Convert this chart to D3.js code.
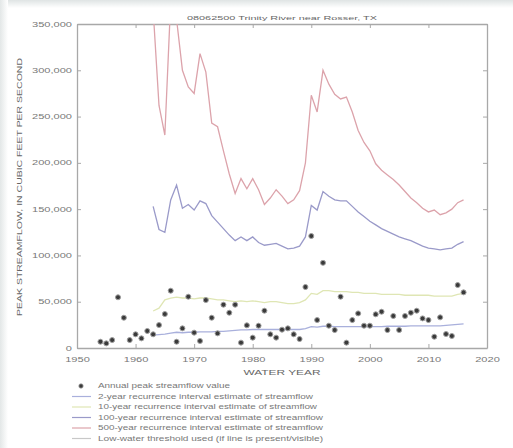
<!DOCTYPE html>
<html><head><meta charset="utf-8">
<script src="https://cdn.jsdelivr.net/npm/d3@7"></script>
<style>body{margin:0;background:#fff}svg{display:block;font-family:"Liberation Sans",Arial,sans-serif}</style>
</head><body><div id="c"></div>
<script>
const title = "08062500 Trinity River near Rosser, TX";
const yLabel = "PEAK STREAMFLOW, IN CUBIC FEET PER SECOND";
const xLabel = "WATER YEAR";
const xTicks = [1950,1960,1970,1980,1990,2000,2010,2020];
const yTicks = [0,50000,100000,150000,200000,250000,300000,350000];
const peakYears = d3.range(1954, 2017);
const peakValues = [6800,5000,8600,54800,32700,8600,14800,10400,18400,14800,24800,36700,61900,6800,21200,55400,16600,7600,51800,32700,15800,46800,38100,46800,5800,24500,11200,24100,40300,14800,11200,19800,21200,14800,9700,65900,121000,30200,92000,24100,19400,55400,5800,30200,37400,24100,24100,36400,39200,19400,34600,19400,34600,38100,40300,32000,30200,12200,33100,15100,13000,68000,60100];
const riYears = d3.range(1963, 2017);
const ri2 = [14,14.5,15,16,17,16.5,17,17,17.5,17.5,17.5,18,18,18.5,19,19.5,19.5,20,20,20,20,20,20,20,20,20,21,23,22.5,23.5,23.5,23,23,23,23,23,23,23,23,23,23.5,23.5,23.5,23.5,24,24,24,24,24,24,24.5,25,25.5,26];
const ri10 = [40,43,52,54,55,54,54,53,54,54,53,52,52,51,50,51,50,51,50,49,50,50,49,48,48,49,52,59,58,62,62,61,61,61,60,60,59,59,59,58,58,58,58,57,57,57,57,57,56,56,56,56,58,59];
const ri100 = [153,128,125,160,176,151,155,149,159,156,143,136,129,122,116,120,116,120,114,111,112,113,110,107,108,110,120,154,149,169,164,160,159,159,153,147,142,137,133,129,126,123,120,118,116,113,110,108,107,106,107,108,112,115];
const ri500 = [365,262,230,375,355,300,282,275,318,298,243,239,213,188,167,183,172,183,171,155,162,171,164,156,160,170,200,273,255,300,285,274,269,271,255,235,222,213,199,192,187,182,176,169,162,157,151,147,149,144,146,150,157,160];
const legendLabels = ["Annual peak streamflow value","2-year recurrence interval estimate of streamflow","10-year recurrence interval estimate of streamflow","100-year recurrence interval estimate of streamflow","500-year recurrence interval estimate of streamflow","Low-water threshold used (if line is present/visible)"];

const W=513,H=448;
const col = {pt:"#3a3a3a", r2:"#a9b0dc", r10:"#dfe6b4", r100:"#9a9ac9", r500:"#dca3ab", low:"#c8c8c8", axis:"#a8a8a8", text:"#777"};
const svg = d3.select("#c").append("svg").attr("width",W).attr("height",H);
const g0 = svg.append("defs");
const lg = g0.append("linearGradient").attr("id","tg").attr("x1",0).attr("x2",0).attr("y1",0).attr("y2",1);
lg.append("stop").attr("offset",0).attr("stop-color","#dfe4e4");
lg.append("stop").attr("offset",1).attr("stop-color","#ffffff");
const lg2 = g0.append("linearGradient").attr("id","lg").attr("x1",0).attr("x2",1).attr("y1",0).attr("y2",0);
lg2.append("stop").attr("offset",0).attr("stop-color","#e3e7e7");
lg2.append("stop").attr("offset",1).attr("stop-color","#ffffff");
svg.append("rect").attr("x",0).attr("y",0).attr("width",W).attr("height",8).attr("fill","url(#tg)");
svg.append("rect").attr("x",0).attr("y",0).attr("width",8).attr("height",H).attr("fill","url(#lg)");
g0.append("clipPath").attr("id","cp").append("rect").attr("x",77).attr("y",24).attr("width",410).attr("height",324);

const x = d3.scaleLinear().domain([1950,2020]).range([77,487]);
const y = d3.scaleLinear().domain([0,350000]).range([348,24]);

function stretch(sel, target){ sel.each(function(){ this.setAttribute("textLength", target); this.setAttribute("lengthAdjust","spacingAndGlyphs"); }); }

const axB = svg.append("g").attr("transform","translate(0,348)").call(d3.axisBottom(x).tickValues(xTicks).tickFormat(d3.format("d")).tickSizeInner(-4).tickSizeOuter(0).tickPadding(9));
const axT = svg.append("g").attr("transform","translate(0,24)").call(d3.axisTop(x).tickValues(xTicks).tickFormat("").tickSizeInner(-4).tickSizeOuter(0));
const axL = svg.append("g").attr("transform","translate(77,0)").call(d3.axisLeft(y).tickValues(yTicks).tickFormat(d3.format(",")).tickSizeInner(-4).tickSizeOuter(0).tickPadding(5));
const axR = svg.append("g").attr("transform","translate(487,0)").call(d3.axisRight(y).tickValues(yTicks).tickFormat("").tickSizeInner(-4).tickSizeOuter(0));
[axB,axT,axL,axR].forEach(a=>{a.select(".domain").attr("stroke",col.axis).attr("stroke-width",1.3);a.selectAll(".tick line").attr("stroke",col.axis);a.selectAll("text").attr("fill",col.text).attr("font-size",6.5).attr("font-family","Liberation Sans, Arial, sans-serif");});
axB.selectAll(".tick text").each(function(){ this.setAttribute("textLength", this.getComputedTextLength()*1.7); this.setAttribute("lengthAdjust","spacingAndGlyphs");});
axL.selectAll(".tick text").each(function(){ this.setAttribute("textLength", this.getComputedTextLength()*1.7); this.setAttribute("lengthAdjust","spacingAndGlyphs");});

const plot = svg.append("g").attr("clip-path","url(#cp)");
const line = d3.line().x(d=>x(d[0])).y(d=>y(d[1]*1000));
[[ri2,col.r2],[ri10,col.r10],[ri100,col.r100],[ri500,col.r500]].forEach(([arr,c])=>{
  plot.append("path").datum(riYears.map((yr,i)=>[yr,arr[i]])).attr("d",line).attr("fill","none").attr("stroke",c).attr("stroke-width",1.3);
});
plot.selectAll("circle.pk").data(peakYears.map((yr,i)=>[yr,peakValues[i]])).join("circle").attr("class","pk")
  .attr("cx",d=>x(d[0])).attr("cy",d=>y(d[1])).attr("r",2.5).attr("fill",col.pt).attr("stroke","#a0a0a0").attr("stroke-width",1);

svg.append("text").attr("x",282).attr("y",19.5).attr("text-anchor","middle").attr("font-size",6).attr("fill","#666").text(title).call(stretch,190);
svg.append("text").attr("transform","translate(22,187) rotate(-90)").attr("text-anchor","middle").attr("font-size",6.5).attr("fill","#666").text(yLabel).call(stretch,258);
svg.append("text").attr("x",282).attr("y",375).attr("text-anchor","middle").attr("font-size",6.5).attr("fill","#666").text(xLabel).call(stretch,77);

const legColors = [null,col.r2,col.r10,col.r100,col.r500,col.low];
const legEnds = [230,313,317,323,323,323];
const lgG = svg.append("g");
legendLabels.forEach((t,i)=>{
  const cy = 386 + i*10.5;
  if(i===0){ lgG.append("circle").attr("cx",81).attr("cy",cy).attr("r",2.2).attr("fill",col.pt).attr("stroke","#a0a0a0").attr("stroke-width",0.8); }
  else { lgG.append("line").attr("x1",72).attr("x2",91).attr("y1",cy).attr("y2",cy).attr("stroke",legColors[i]).attr("stroke-width",1.2); }
  lgG.append("text").attr("x",98).attr("y",cy+2.3).attr("font-size",6.5).attr("fill","#777").text(t).call(stretch,legEnds[i]-98);
});
</script></body></html>
